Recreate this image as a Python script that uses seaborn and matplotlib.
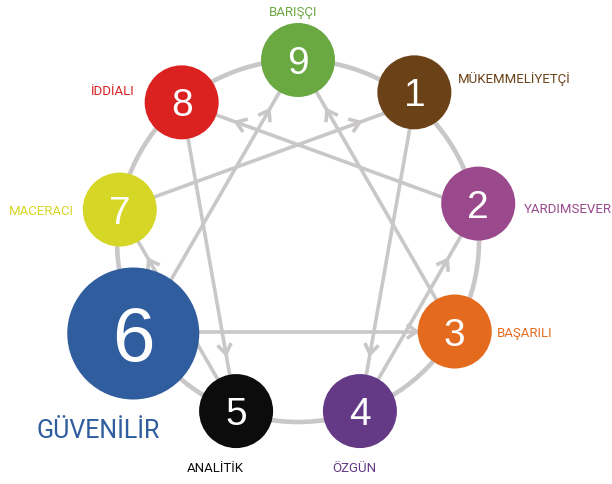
import numpy as np
import pandas as pd
import matplotlib
matplotlib.use("Agg")
import matplotlib.pyplot as plt
import seaborn as sns
from matplotlib.patches import Circle

# enneagram types, clockwise from the top
types = [9, 1, 2, 3, 4, 5, 6, 7, 8]
names = ["BARIŞÇI", "MÜKEMMELİYETÇİ", "YARDIMSEVER", "BAŞARILI", "ÖZGÜN",
         "ANALİTİK", "GÜVENİLİR", "MACERACI", "İDDİALI"]
colors = ["#6aa842", "#6b4218", "#9a4a8c", "#e46a1e", "#643a87",
          "#0c0c0c", "#2f5d9e", "#d6d626", "#dc2121"]
highlight = 6

# directed lines of the figure
arrow_from = [6, 3, 6, 1, 4, 2, 8, 5, 7]
arrow_to = [9, 9, 3, 4, 2, 8, 5, 7, 1]

# layout (pixels)
cx, cy, R = 298, 241, 181
grey = "#c9c7c7"
node_r = {t: 37 for t in types}
node_r[highlight] = 66
node_shift = {1: (0, -10), 2: (2, -6), 6: (-8, 2)}
label_off = {9: (-4.5, -44, "center"), 1: (44, -9, "left"), 2: (46, 9, "left"),
             3: (42, 5.5, "left"), 4: (-6, 61, "center"), 5: (-21, 61, "center"),
             6: (-35.5, 104, "center"), 7: (-46, 5, "right"), 8: (-47, -7, "right")}


def ring_pos(t):
    a = np.deg2rad(90 - 40 * (t % 9))
    return np.array([cx + R * np.cos(a), cy - R * np.sin(a)])


sns.set_theme(style="white")
label_font = ["Roboto", "DejaVu Sans"]

fig = plt.figure(figsize=(6.12, 4.84), dpi=100)
ax = fig.add_axes([0, 0, 1, 1])
ax.set_xlim(0, 612)
ax.set_ylim(484, 0)
ax.axis("off")

ax.add_patch(Circle((cx, cy), R, fill=False, ec=grey, lw=3.3, zorder=1))

for a, b in zip(arrow_from, arrow_to):
    p, q = ring_pos(a), ring_pos(b)
    ax.plot([p[0], q[0]], [p[1], q[1]], color=grey, lw=2.6, zorder=1,
            solid_capstyle="butt")
    d = (q - p) / np.linalg.norm(q - p)
    back = 38 if (a, b) == (6, 3) else 58
    tip = q - d * back
    for s in (1, -1):
        ang = np.deg2rad(35 * s)
        rot = np.array([[np.cos(ang), -np.sin(ang)], [np.sin(ang), np.cos(ang)]])
        arm = tip - rot @ d * 12
        ax.plot([tip[0], arm[0]], [tip[1], arm[1]], color=grey, lw=2.6,
                zorder=1, solid_capstyle="butt")

df = pd.DataFrame({"type": types, "name": names, "color": colors})
df["x"] = [ring_pos(t)[0] + node_shift.get(t, (0, 0))[0] for t in types]
df["y"] = [ring_pos(t)[1] + node_shift.get(t, (0, 0))[1] for t in types]
df["s"] = [(2 * node_r[t] * 0.72) ** 2 for t in types]

sns.scatterplot(data=df, x="x", y="y", hue="type", palette=dict(zip(types, colors)),
                s=df["s"].values, linewidth=0, legend=False, ax=ax, zorder=3)

for _, row in df.iterrows():
    t = row["type"]
    big = t == highlight
    cap = 55 if big else 28
    ax.text(row["x"], row["y"] + cap / 2, str(t), color="white",
            fontsize=55 if big else 28, ha="center", va="baseline",
            family=["Liberation Sans", "DejaVu Sans"], zorder=4)
    dx, dy, ha = label_off[t]
    ax.text(row["x"] + dx, row["y"] + dy, row["name"], color=row["color"],
            fontsize=18 if big else 9.5, ha=ha, va="baseline",
            family=label_font, zorder=4)

fig.savefig("out.png", dpi=100, facecolor="white")
